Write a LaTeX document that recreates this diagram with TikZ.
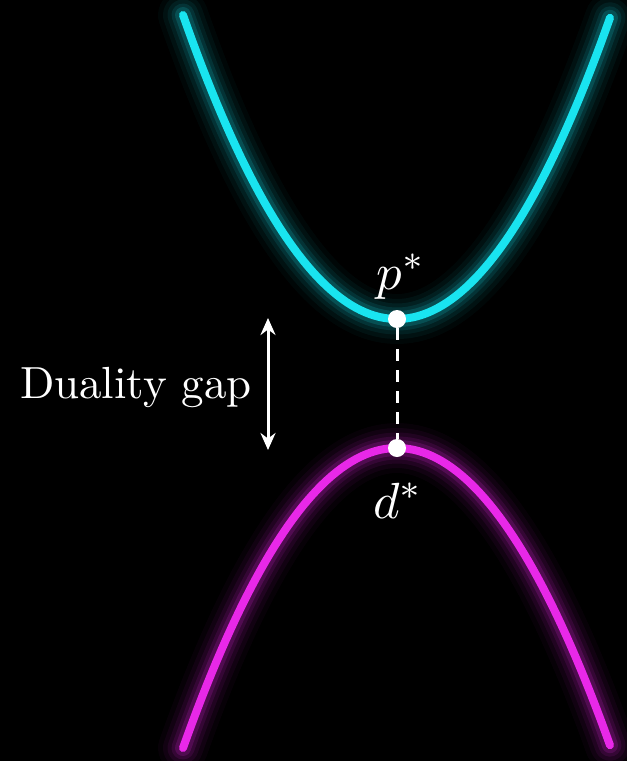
\documentclass[tikz,border=0pt]{standalone}
\usepackage{tikz}
\usepackage{xcolor}
\usetikzlibrary{positioning, arrows.meta, calc}
\definecolor{myCyan}{RGB}{25,228,240}
\definecolor{myMagenta}{RGB}{232,40,232}

\begin{document}
\begin{tikzpicture}[x=1pt, y=-1pt,
  curve/.style={line width=8pt, line cap=round},
  vdot/.style={circle, fill=white, inner sep=0pt, minimum size=18pt},
  lbl/.style={text=white, inner sep=0pt, scale=4.5},
]
  \fill[black] (0,0) rectangle (627,761);
  \useasboundingbox (0,0) rectangle (627,761);
  % glow under the two curves
  \foreach \w/\o in {50/0.03, 40/0.05, 31/0.07, 23/0.1, 16/0.16} {
    \draw[myCyan, line width=\w pt, opacity=\o, line cap=round]
      plot[domain=-214:213, samples=90] ({397+\x},{319-304*(\x/214)^2});
    \draw[myMagenta, line width=\w pt, opacity=\o, line cap=round]
      plot[domain=-214:213, samples=90] ({397+\x},{448+300*(\x/214)^2});
  }
  \draw[curve, myCyan]
    plot[domain=-214:213, samples=90] ({397+\x},{319-304*(\x/214)^2});
  \draw[curve, myMagenta]
    plot[domain=-214:213, samples=90] ({397+\x},{448+300*(\x/214)^2});

  \node[vdot] (p) at (397,319) {};
  \node[vdot] (d) at (397,448) {};
  \draw[white, line width=3pt, dash pattern=on 12pt off 9pt] (p) -- (d);

  \node[lbl, scale=1.13, anchor=base] (plbl) at (401,289) {$p^*$};
  \node[lbl, scale=1.13, anchor=base] (dlbl) at (398,518) {$d^*$};

  \coordinate (gtop) at (268,318);
  \coordinate (gbot) at (268,450);
  \draw[white, line width=3pt, {Stealth[length=17pt,width=15pt]}-{Stealth[length=17pt,width=15pt]}]
    (gtop) -- (gbot);
  \node[lbl, anchor=base] (gap) at (136,398) {Duality gap};
\end{tikzpicture}
\end{document}
